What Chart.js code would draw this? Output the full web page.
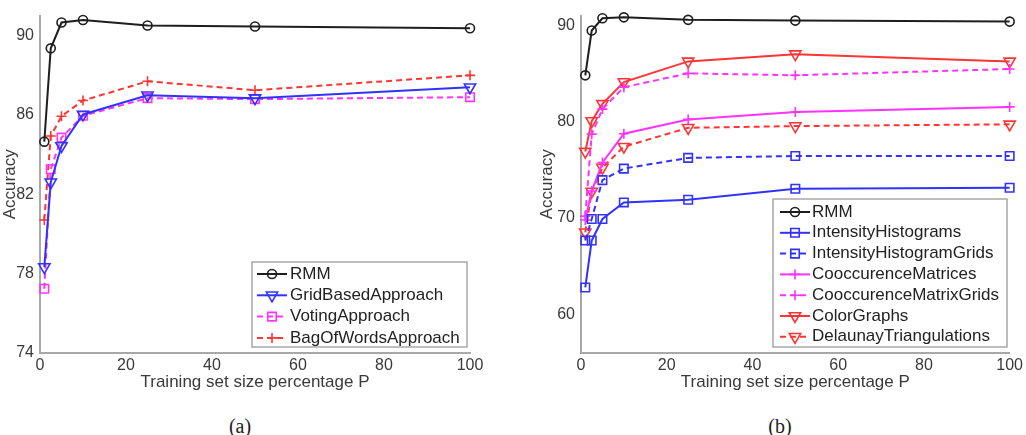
<!DOCTYPE html>
<html lang="en">
<head>
<meta charset="utf-8">
<title>Accuracy vs training set size</title>
<script src="https://cdn.jsdelivr.net/npm/chart.js@4.4.1/dist/chart.umd.min.js"></script>
<style>
  html, body { margin: 0; padding: 0; background: #fff; }
  #pagina { position: relative; width: 1026px; height: 435px; overflow: hidden; background: #fff; }
  canvas { position: absolute; top: 0; }
  #graficoA { left: 0; }
  #graficoB { left: 537px; }
  .rotulo { position: absolute; top: 415px; width: 60px; text-align: center; line-height: 24px;
            font: 20px "Liberation Serif", "DejaVu Serif", serif; color: #222; }
</style>
</head>
<body>
<div id="pagina">
  <canvas id="graficoA" width="513" height="405"></canvas>
  <canvas id="graficoB" width="489" height="405"></canvas>
  <div class="rotulo" style="left:210px">(a)</div>
  <div class="rotulo" style="left:750px">(b)</div>
</div>
<script>
// Dados (percentual P do conjunto de treino)
const tamanhos = [1, 2.5, 5, 10, 25, 50, 100];
const ticksX = [0, 20, 40, 60, 80, 100];
const ticksYA = [74, 78, 82, 86, 90];
const ticksYB = [60, 70, 80, 90];

// Painel (a)
const rmmA = [84.65, 89.35, 90.65, 90.78, 90.5, 90.45, 90.36];
const gridBased = [78.33, 82.6, 84.43, 86.02, 86.99, 86.84, 87.39];
const voting = [77.24, 83.26, 84.85, 85.95, 86.84, 86.79, 86.89];
const bagOfWords = [80.7, 84.93, 85.93, 86.72, 87.69, 87.24, 87.99];

// Painel (b)
const rmmB = [84.8, 89.45, 90.72, 90.82, 90.56, 90.48, 90.38];
const intensityHist = [62.8, 67.67, 69.9, 71.62, 71.9, 73.04, 73.14];
const intensityHistGrids = [67.67, 69.9, 73.93, 75.13, 76.24, 76.44, 76.44];
const coocMatrices = [69.8, 72.8, 75.75, 78.75, 80.23, 80.99, 81.53];
const coocMatrixGrids = [70.2, 78.7, 81.3, 83.57, 85.01, 84.81, 85.46];
const colorGraphs = [76.89, 80.06, 81.84, 84.11, 86.25, 87.0, 86.25];
const delaunay = [68.52, 72.76, 75.24, 77.4, 79.36, 79.54, 79.72];

const PRETO = '#1e1e1e';
const AZUL = '#3232ff';
const MAGENTA = '#ff32ff';
const VERMELHO = '#ff3434';
const FONTE = '"Liberation Sans", Arial, sans-serif';
const COR_TEXTO = '#3a3a3a';

const raios = { circle: 4.5, rect: 6, triangle: 6.5, cross: 5 };

// Função para montar uma série no formato do Chart.js
function serie(label, valores, cor, marcador, tracejado) {
    return {
        label: label,
        data: tamanhos.map((x, i) => ({ x: x, y: valores[i] })),
        borderColor: cor,
        backgroundColor: 'rgba(0,0,0,0)',
        borderWidth: 2,
        borderDash: tracejado ? [6, 4] : [],
        pointStyle: marcador,
        pointRotation: marcador === 'triangle' ? 180 : 0,
        pointRadius: raios[marcador],
        pointBorderColor: cor,
        pointBackgroundColor: 'rgba(0,0,0,0)',
        pointBorderWidth: 1.6,
        tension: 0,
        clip: false
    };
}

// Função para desenhar o marcador dentro da legenda
function desenharMarcador(ctx, estilo, x, y, r, cor) {
    ctx.save();
    ctx.strokeStyle = cor;
    ctx.lineWidth = 1.6;
    ctx.setLineDash([]);
    ctx.beginPath();
    if (estilo === 'circle') {
        ctx.arc(x, y, r, 0, Math.PI * 2);
    } else if (estilo === 'rect') {
        const s = r * Math.SQRT1_2;
        ctx.rect(x - s, y - s, 2 * s, 2 * s);
    } else if (estilo === 'triangle') {
        // triângulo para baixo
        ctx.moveTo(x, y + r);
        ctx.lineTo(x - r * 0.866, y - r * 0.5);
        ctx.lineTo(x + r * 0.866, y - r * 0.5);
        ctx.closePath();
    } else if (estilo === 'cross') {
        ctx.moveTo(x - r, y); ctx.lineTo(x + r, y);
        ctx.moveTo(x, y - r); ctx.lineTo(x, y + r);
    }
    ctx.stroke();
    ctx.restore();
}

// Plugin da legenda dentro da área do gráfico (estilo MATLAB)
const legendaInterna = {
    id: 'legendaInterna',
    afterDraw(chart, args, opts) {
        const ctx = chart.ctx;
        ctx.save();
        ctx.fillStyle = '#fff';
        ctx.fillRect(opts.x, opts.y, opts.largura, opts.altura);
        ctx.strokeStyle = '#a8a8a8';
        ctx.lineWidth = 1.5;
        ctx.strokeRect(opts.x, opts.y, opts.largura, opts.altura);

        chart.data.datasets.forEach((ds, i) => {
            const yLinha = opts.y + opts.primeira + i * opts.passo;
            const x0 = opts.x + opts.amostra;
            const x1 = x0 + 30;
            ctx.beginPath();
            ctx.setLineDash(ds.borderDash);
            ctx.strokeStyle = ds.borderColor;
            ctx.lineWidth = 2;
            ctx.moveTo(x0, yLinha);
            ctx.lineTo(x1, yLinha);
            ctx.stroke();
            ctx.setLineDash([]);
            desenharMarcador(ctx, ds.pointStyle, (x0 + x1) / 2, yLinha, ds.pointRadius, ds.borderColor);

            ctx.fillStyle = '#222';
            ctx.font = '17px ' + FONTE;
            ctx.textBaseline = 'middle';
            ctx.textAlign = 'left';
            ctx.fillText(ds.label, opts.x + opts.texto, yLinha);
        });
        ctx.restore();
    }
};

// Função para criar as opções comuns dos dois painéis
function opcoes(yMin, yMax, ticksY, larguraY, padding, legenda) {
    return {
        responsive: false,
        animation: false,
        layout: { padding: padding },
        plugins: {
            legend: { display: false },
            tooltip: { enabled: false },
            legendaInterna: legenda
        },
        scales: {
            x: {
                type: 'linear',
                min: 0,
                max: 100,
                afterBuildTicks: (eixo) => { eixo.ticks = ticksX.map(v => ({ value: v })); },
                afterFit: (eixo) => { eixo.height = 48; },
                grid: { display: false, drawTicks: false },
                border: { display: true, color: '#a8a8a8', width: 2 },
                ticks: { color: COR_TEXTO, font: { family: FONTE, size: 16 }, padding: 3, maxRotation: 0 },
                title: {
                    display: true,
                    text: 'Training set size percentage P',
                    color: COR_TEXTO,
                    font: { family: FONTE, size: 17 },
                    padding: { top: 0, bottom: 8 }
                }
            },
            y: {
                type: 'linear',
                min: yMin,
                max: yMax,
                afterBuildTicks: (eixo) => { eixo.ticks = ticksY.map(v => ({ value: v })); },
                afterFit: (eixo) => { eixo.width = larguraY; },
                grid: { display: false, drawTicks: false },
                border: { display: true, color: '#a8a8a8', width: 2 },
                ticks: { color: COR_TEXTO, font: { family: FONTE, size: 16 }, padding: 6 },
                title: {
                    display: true,
                    text: 'Accuracy',
                    color: COR_TEXTO,
                    font: { family: FONTE, size: 17 },
                    padding: { top: 0, bottom: 0 }
                }
            }
        }
    };
}

// Painel (a)
new Chart(document.getElementById('graficoA').getContext('2d'), {
    type: 'line',
    data: {
        datasets: [
            serie('RMM', rmmA, PRETO, 'circle', false),
            serie('GridBasedApproach', gridBased, AZUL, 'triangle', false),
            serie('VotingApproach', voting, MAGENTA, 'rect', true),
            serie('BagOfWordsApproach', bagOfWords, VERMELHO, 'cross', true)
        ]
    },
    options: opcoes(74, 91, ticksYA, 40, { left: 0, right: 43, top: 14, bottom: 4 },
        { x: 252, y: 262, largura: 215, altura: 85, primeira: 12, passo: 21.3, amostra: 5, texto: 38 }),
    plugins: [legendaInterna]
});

// Painel (b)
new Chart(document.getElementById('graficoB').getContext('2d'), {
    type: 'line',
    data: {
        datasets: [
            serie('RMM', rmmB, PRETO, 'circle', false),
            serie('IntensityHistograms', intensityHist, AZUL, 'rect', false),
            serie('IntensityHistogramGrids', intensityHistGrids, AZUL, 'rect', true),
            serie('CooccurenceMatrices', coocMatrices, MAGENTA, 'cross', false),
            serie('CooccurenceMatrixGrids', coocMatrixGrids, MAGENTA, 'cross', true),
            serie('ColorGraphs', colorGraphs, VERMELHO, 'triangle', false),
            serie('DelaunayTriangulations', delaunay, VERMELHO, 'triangle', true)
        ]
    },
    options: opcoes(56, 91, ticksYB, 44, { left: 0, right: 14, top: 14, bottom: 4 },
        { x: 236, y: 199, largura: 234, altura: 148, primeira: 13, passo: 20.8, amostra: 7, texto: 39 }),
    plugins: [legendaInterna]
});
</script>
</body>
</html>
